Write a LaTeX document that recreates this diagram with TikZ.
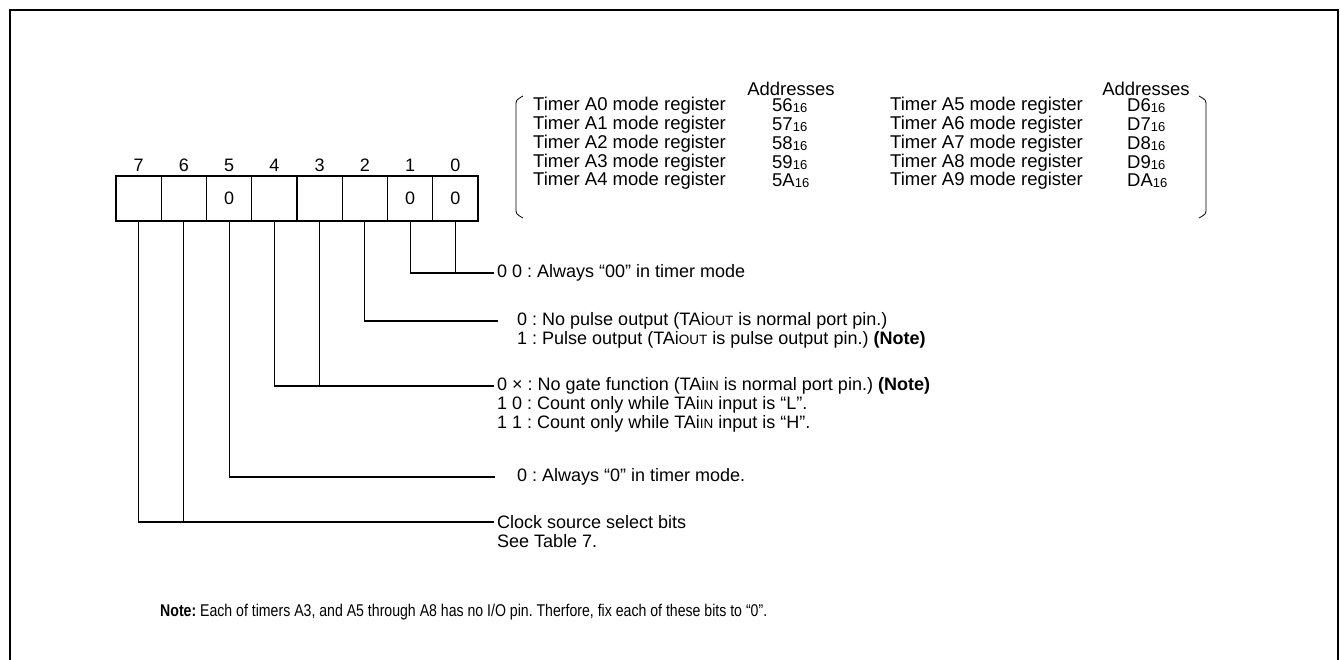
\documentclass[tikz,border=0pt]{standalone}
\usepackage{fontspec}
\setmainfont{Liberation Sans}
\newfontfamily\narrowfont[FakeStretch=0.83]{Liberation Sans}
\newcommand\hexsub[1]{#1\raisebox{-1pt}{\fontsize{13}{13}\selectfont 16}}
\newcommand\smc[1]{{\fontsize{13.5}{13.5}\selectfont #1}}
\begin{document}
\frenchspacing
\begin{tikzpicture}[x=1pt,y=-1pt,
  every node/.style={font=\fontsize{18}{19}\selectfont, inner sep=0pt},
  cell/.style={draw, line width=1.1pt, minimum width=45.25pt, minimum height=45pt, anchor=center},
  bitno/.style={anchor=center},
  wire/.style={line width=1.1pt},
  desc/.style={anchor=west},
  tbl/.style={anchor=west, font=\fontsize{18.5}{19}\selectfont},
  bracketline/.style={line width=0.8pt}]
\clip (0,0) rectangle (1340,659);
\useasboundingbox (0,0) rectangle (1340,659);
\draw[line width=2.2pt] (10,10) rectangle (1338,720);

% register cells
\foreach \b/\k/\v in {7/0/,6/1/,5/2/0,4/3/,3/4/,2/5/,1/6/0,0/7/0}{
  \node[cell] (b\b) at ({116+45.25*(\k+0.5)},198.5) {\v};
  \node[bitno] (n\b) at ({116+45.25*(\k+0.5)},165) {\b};
}

% descriptions
\node[desc] (t00) at (497,273) {0 0 : Always “00” in timer mode};
\node[desc] (tp0) at (517,321) {0 : No pulse output (TAi\smc{OUT} is normal port pin.)};
\node[desc] (tp1) at (517,340) {1 : Pulse output (TAi\smc{OUT} is pulse output pin.) \textbf{(Note)}};
\node[desc] (tg0) at (497,386) {0 × : No gate function (TAi\smc{IN} is normal port pin.) \textbf{(Note)}};
\node[desc] (tg1) at (497,405) {1 0 : Count only while TAi\smc{IN} input is “L”.};
\node[desc] (tg2) at (497,424) {1 1 : Count only while TAi\smc{IN} input is “H”.};
\node[desc] (t5) at (517,477) {0 : Always “0” in timer mode.};
\node[desc] (tc0) at (497,522) {Clock source select bits};
\node[desc] (tc1) at (497,541) {See Table 7.};

% connectors
\coordinate (e00) at (494,273);
\coordinate (e2) at (498,321);
\coordinate (e43) at (494,386);
\coordinate (e5) at (495,477);
\coordinate (e76) at (494,522);
\draw[wire] (b1.south) |- (e00);
\draw[wire] (b0.south) -- (b0.south |- e00);
\draw[wire] (b2.south) |- (e2);
\draw[wire] (b4.south) |- (e43);
\draw[wire] (b3.south) -- (b3.south |- e43);
\draw[wire] (b5.south) |- (e5);
\draw[wire] (b7.south) |- (e76);
\draw[wire] (b6.south) -- (b6.south |- e76);

% address table
\node[font=\fontsize{18.5}{19}\selectfont] (ha) at (791,89) {Addresses};
\node[font=\fontsize{18.5}{19}\selectfont] (hb) at (1146,89) {Addresses};
\foreach \i/\r/\a in {0/0/56,1/1/57,2/2/58,3/3/59,4/4/5A}{
  \node[tbl] (ra\i) at (533,{106+18.75*\r}) {Timer A\i\ mode register};
  \node[tbl] (aa\i) at (772,{106+18.75*\r}) {\hexsub{\a}};
}
\foreach \i/\r/\a in {5/0/D6,6/1/D7,7/2/D8,8/3/D9,9/4/DA}{
  \node[tbl] (rb\i) at (890,{106+18.75*\r}) {Timer A\i\ mode register};
  \node[tbl] (ab\i) at (1127,{106+18.75*\r}) {\hexsub{\a}};
}
\draw[bracketline] (523,96) .. controls (516,100) .. (516,106) -- (516,208) .. controls (516,214) .. (523,218);
\draw[bracketline] (1199,96) .. controls (1206,100) .. (1206,106) -- (1206,208) .. controls (1206,214) .. (1199,218);

% note
\node[anchor=west, font=\narrowfont\fontsize{17}{18}\selectfont] (note) at (160,612) {\textbf{Note:} Each of timers A3, and A5 through A8 has no I/O pin. Therfore, fix each of these bits to “0”.};
\end{tikzpicture}
\end{document}
